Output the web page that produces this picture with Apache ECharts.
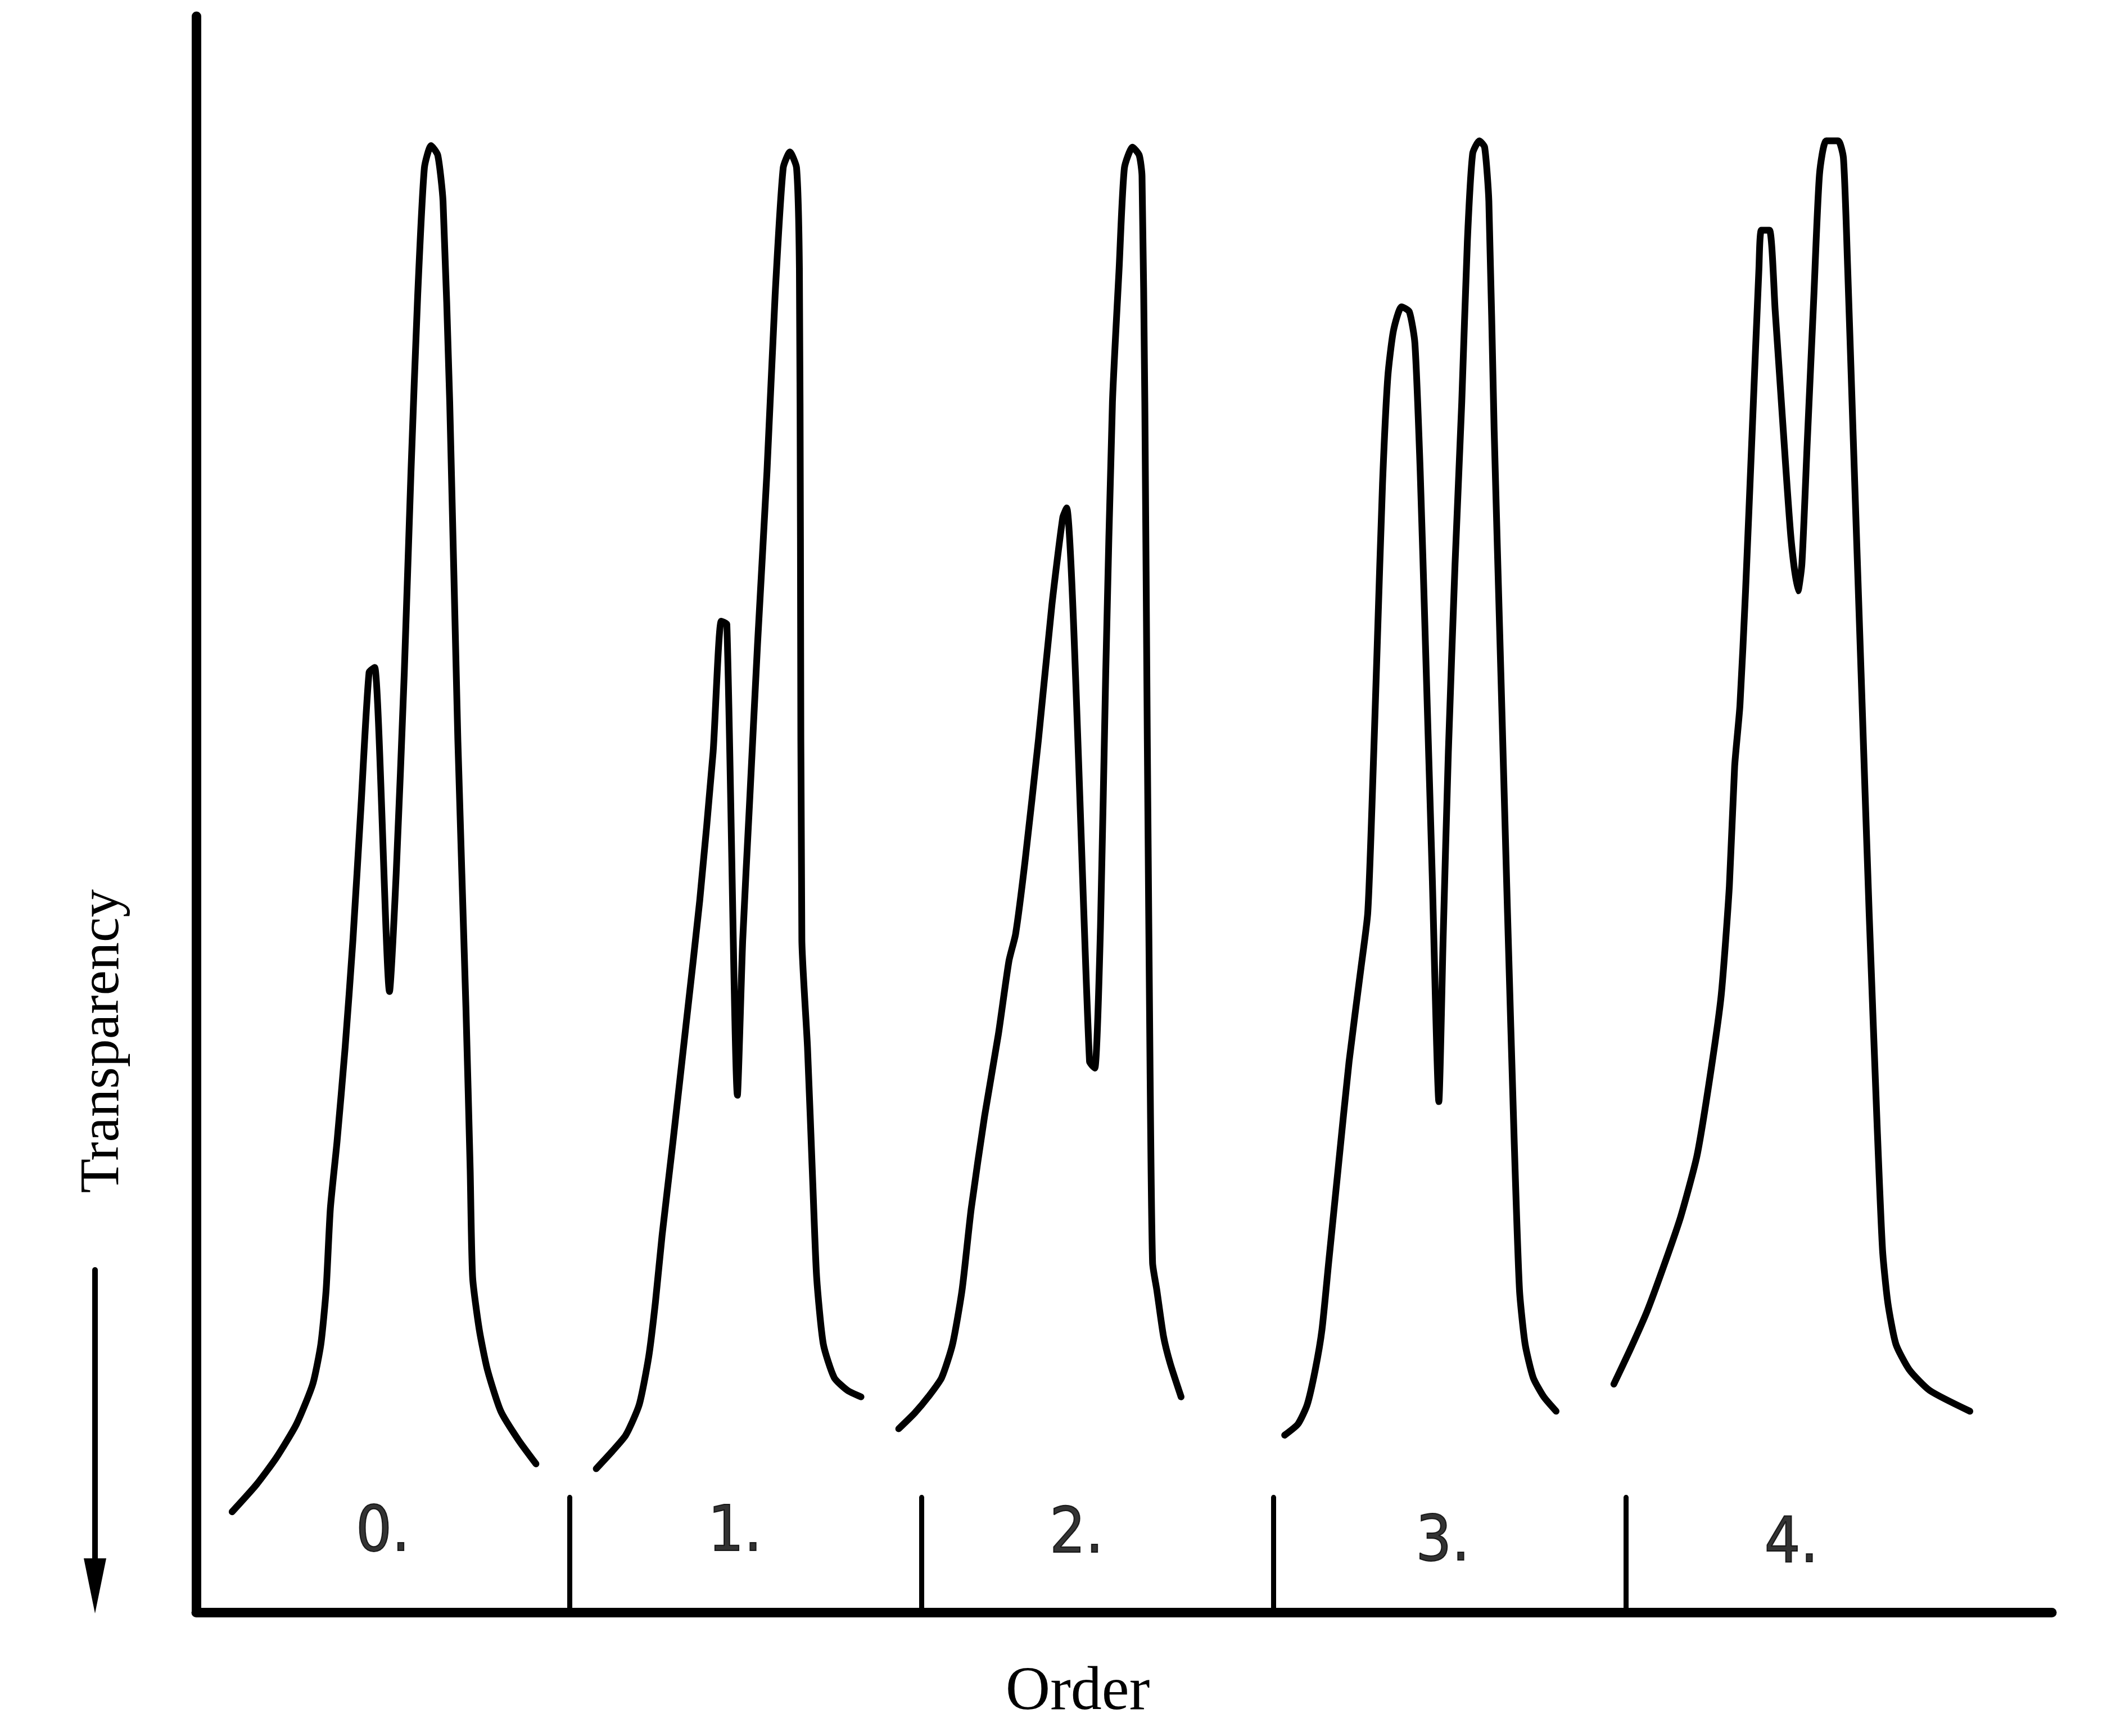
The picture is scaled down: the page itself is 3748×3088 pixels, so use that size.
<!DOCTYPE html>
<html>
<head>
<meta charset="utf-8">
<script src="https://cdn.jsdelivr.net/npm/echarts@6/dist/echarts.min.js"></script>
<style>
html,body{margin:0;padding:0;background:#fff;}
#chart{width:3748px;height:3088px;}
</style>
</head>
<body>
<div id="chart"></div>
<script>
// ---- data (x in "order" units, y = relative height above baseline, 0..100) ----
const curve0 = [[0.042,6.3],[0.111,8.0],[0.168,9.7],[0.225,11.8],[0.271,14.3],[0.294,16.8],[0.309,20.2],[0.321,25.3],[0.340,29.5],[0.363,35.4],[0.385,42.1],[0.408,50.5],[0.431,58.9],[0.447,59.2],[0.489,38.9],[0.508,46.3],[0.531,58.9],[0.550,71.5],[0.569,82.5],[0.588,90.5],[0.607,91.9],[0.626,91.3],[0.641,88.4],[0.660,75.8],[0.683,54.7],[0.706,37.9],[0.718,27.8],[0.725,21.0],[0.744,17.7],[0.767,15.2],[0.805,12.6],[0.855,10.8],[0.905,9.3]];
const curve1 = [[1.076,9.0],[1.122,10.1],[1.160,11.1],[1.198,13.0],[1.225,16.0],[1.244,19.4],[1.263,23.6],[1.294,29.5],[1.332,37.0],[1.370,44.6],[1.408,53.9],[1.431,62.1],[1.447,61.9],[1.477,32.4],[1.492,42.1],[1.511,50.5],[1.534,60.6],[1.561,71.5],[1.584,82.5],[1.607,90.5],[1.626,91.5],[1.645,90.5],[1.653,84.2],[1.656,67.3],[1.660,42.1],[1.676,35.4],[1.691,26.9],[1.702,21.0],[1.721,16.8],[1.752,14.7],[1.790,13.9],[1.828,13.5]];
const curve2 = [[1.935,11.5],[1.981,12.5],[2.019,13.5],[2.057,14.7],[2.088,16.8],[2.115,20.2],[2.141,25.3],[2.179,31.1],[2.218,36.2],[2.248,40.8],[2.267,42.5],[2.294,47.1],[2.332,54.7],[2.370,63.1],[2.401,68.6],[2.412,69.2],[2.477,34.5],[2.492,34.1],[2.508,42.9],[2.523,58.9],[2.542,75.8],[2.561,84.2],[2.576,90.5],[2.599,91.8],[2.618,91.3],[2.626,90.0],[2.634,75.8],[2.641,54.7],[2.649,33.7],[2.656,21.9],[2.668,20.2],[2.687,17.3],[2.706,15.6],[2.737,13.5]];
const curve3 = [[3.031,11.1],[3.069,11.8],[3.095,13.0],[3.118,15.2],[3.137,17.7],[3.156,21.9],[3.183,27.8],[3.214,34.5],[3.248,40.4],[3.267,43.8],[3.279,50.5],[3.294,60.6],[3.309,70.7],[3.324,77.4],[3.340,80.3],[3.363,81.8],[3.385,81.5],[3.401,79.5],[3.416,71.5],[3.431,60.6],[3.450,46.3],[3.469,32.0],[3.481,42.1],[3.496,53.9],[3.515,65.7],[3.534,75.8],[3.550,85.9],[3.565,91.4],[3.584,92.2],[3.599,91.8],[3.611,88.4],[3.626,74.1],[3.645,58.9],[3.664,43.8],[3.683,29.5],[3.698,20.2],[3.714,16.8],[3.737,14.7],[3.767,13.5],[3.802,12.6]];
const curve4 = [[3.966,14.3],[4.011,16.4],[4.061,18.9],[4.111,21.9],[4.156,24.8],[4.202,28.6],[4.240,33.7],[4.271,38.7],[4.294,45.5],[4.309,53.0],[4.324,56.8],[4.340,64.0],[4.359,74.1],[4.378,84.2],[4.385,86.6],[4.408,86.6],[4.424,81.6],[4.447,74.1],[4.469,67.3],[4.489,64.0],[4.500,65.7],[4.515,73.2],[4.534,82.5],[4.550,90.1],[4.569,92.2],[4.603,92.2],[4.618,91.1],[4.630,84.2],[4.645,74.1],[4.668,58.9],[4.691,43.8],[4.714,30.3],[4.729,22.7],[4.744,19.4],[4.767,16.8],[4.805,15.2],[4.863,13.9],[4.977,12.6]];
const curves = [curve0, curve1, curve2, curve3, curve4];
const orderLabels = ['0.', '1.', '2.', '3.', '4.'];
const labelX = [0.47, 1.47, 2.44, 3.48, 4.47];
const labelY = [4.9, 4.9, 4.8, 4.3, 4.2];
const dividerX = [1, 2, 3, 4];
const dividerTop = 7.2;
const xName = 'Order';
const yName = 'Transparency';

// ---- chart ----
const chart = echarts.init(document.getElementById('chart'));
const INK = '#000';
const series = curves.map(c => ({
  type: 'line', data: c, showSymbol: false, smooth: 0.2, silent: true,
  lineStyle: { color: INK, width: 12, cap: 'round', join: 'round' }
}));
series.push({
  type: 'line', data: [], silent: true,
  markLine: {
    silent: true, symbol: ['none', 'none'], label: { show: false },
    lineStyle: { color: INK, width: 9, type: 'solid', cap: 'round' },
    data: dividerX.map(x => [{ coord: [x, 0] }, { coord: [x, dividerTop] }])
  }
});
series.push({
  type: 'scatter', silent: true, symbolSize: 1,
  itemStyle: { color: 'rgba(0,0,0,0)' },
  data: labelX.map((x, i) => ({ value: [x, labelY[i]], name: orderLabels[i] })),
  label: {
    show: true, position: 'inside', formatter: p => p.name,
    color: INK, fontSize: 112, textBorderColor: INK, textBorderWidth: 2,
    fontFamily: "'Liberation Sans Narrow', 'DejaVu Sans Condensed', 'Liberation Sans', sans-serif"
  }
});

chart.setOption({
  animation: false,
  backgroundColor: '#fff',
  grid: { left: 349, right: 98, top: 29, bottom: 220 },
  xAxis: {
    type: 'value', min: -0.06, max: 5.21,
    axisLine: { show: true, onZero: false, lineStyle: { color: INK, width: 17, cap: 'round' } },
    axisTick: { show: false }, axisLabel: { show: false }, splitLine: { show: false }
  },
  yAxis: {
    type: 'value', min: 0, max: 100,
    axisLine: { show: true, onZero: false, lineStyle: { color: INK, width: 17, cap: 'round' } },
    axisTick: { show: false }, axisLabel: { show: false }, splitLine: { show: false }
  },
  graphic: [
    { type: 'text', x: 1917, y: 3011,
      style: { text: xName, font: "110px 'Liberation Serif', serif", fill: INK, textAlign: 'center', textVerticalAlign: 'middle' } },
    { type: 'text', x: 184, y: 1852, rotation: Math.PI / 2,
      style: { text: yName, font: "100px 'Liberation Serif', serif", fill: INK, textAlign: 'center', textVerticalAlign: 'middle' } },
    { type: 'line', shape: { x1: 169, y1: 2259, x2: 169, y2: 2800 },
      style: { stroke: INK, lineWidth: 10, lineCap: 'round' } },
    { type: 'polygon', shape: { points: [[149, 2772], [189, 2772], [169, 2870]] },
      style: { fill: INK } }
  ],
  series: series
});
</script>
</body>
</html>
